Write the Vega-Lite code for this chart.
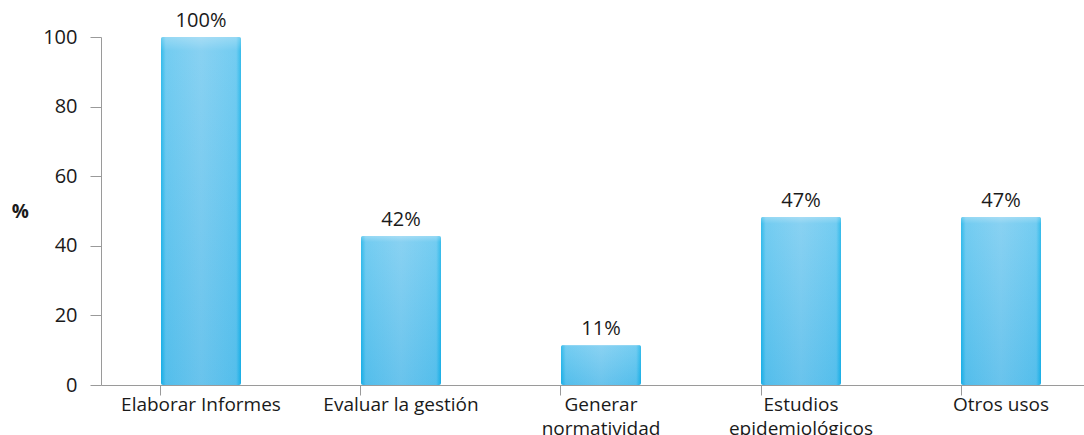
{
  "$schema": "https://vega.github.io/schema/vega-lite/v6.json",
  "width": 1000,
  "height": 348,
  "padding": {"left": 101, "top": 37, "right": 0, "bottom": 50},
  "autosize": {"type": "none"},
  "background": "white",
  "config": {"view": {"stroke": null}, "font": "Open Sans"},
  "data": {
    "values": [
      {"uso": "Elaborar Informes", "valor": 100, "etiqueta": "100%"},
      {"uso": "Evaluar la gestión", "valor": 42.8, "etiqueta": "42%"},
      {"uso": "Generar normatividad", "valor": 11.5, "etiqueta": "11%"},
      {"uso": "Estudios epidemiológicos", "valor": 48.3, "etiqueta": "47%"},
      {"uso": "Otros usos", "valor": 48.3, "etiqueta": "47%"}
    ]
  },
  "encoding": {
    "x": {
      "field": "uso", "type": "nominal", "sort": null,
      "scale": {"paddingInner": 0.6, "paddingOuter": 0.3},
      "axis": {
        "title": null, "labelAngle": 0, "bandPosition": 0,
        "domainColor": "#9a9a9a", "tickColor": "#9a9a9a", "tickSize": 10,
        "labelFontSize": 19, "labelColor": "#1a1a1a", "labelPadding": 0,
        "labelLineHeight": 24, "labelBaseline": "top",
        "labelExpr": "datum.value == 'Generar normatividad' ? ['Generar', 'normatividad'] : datum.value == 'Estudios epidemiológicos' ? ['Estudios', 'epidemiológicos'] : datum.value"
      }
    },
    "y": {
      "field": "valor", "type": "quantitative",
      "scale": {"domain": [0, 100], "nice": false},
      "axis": {
        "title": "%", "titleAngle": 0, "titleFontSize": 19, "titleFontWeight": "bold",
        "titleColor": "#1a1a1a", "titlePadding": 23, "titleBaseline": "middle",
        "values": [0, 20, 40, 60, 80, 100], "grid": false,
        "domainColor": "#9a9a9a", "tickColor": "#9a9a9a", "tickSize": 11,
        "labelFontSize": 20, "labelColor": "#1a1a1a", "labelPadding": 13
      }
    }
  },
  "layer": [
    {
      "mark": {
        "type": "bar",
        "cornerRadius": 2,
        "color": {
          "gradient": "linear", "x1": 0, "x2": 1, "y1": 0, "y2": 0,
          "stops": [
            {"offset": 0, "color": "#19b2e8"},
            {"offset": 0.06, "color": "#5fc5ef"},
            {"offset": 0.5, "color": "#78cbf0"},
            {"offset": 0.94, "color": "#5fc5ef"},
            {"offset": 1, "color": "#19b2e8"}
          ]
        }
      }
    },
    {
      "mark": {
        "type": "bar",
        "cornerRadius": 2,
        "color": {
          "gradient": "linear", "x1": 0, "x2": 0, "y1": 0, "y2": 1,
          "stops": [
            {"offset": 0, "color": "rgba(255,255,255,0.35)"},
            {"offset": 0.04, "color": "rgba(255,255,255,0.12)"},
            {"offset": 1, "color": "rgba(0,140,210,0.12)"}
          ]
        }
      }
    },
    {
      "mark": {"type": "text", "dy": -6, "baseline": "bottom", "fontSize": 20, "color": "#1a1a1a"},
      "encoding": {"text": {"field": "etiqueta"}}
    }
  ]
}
